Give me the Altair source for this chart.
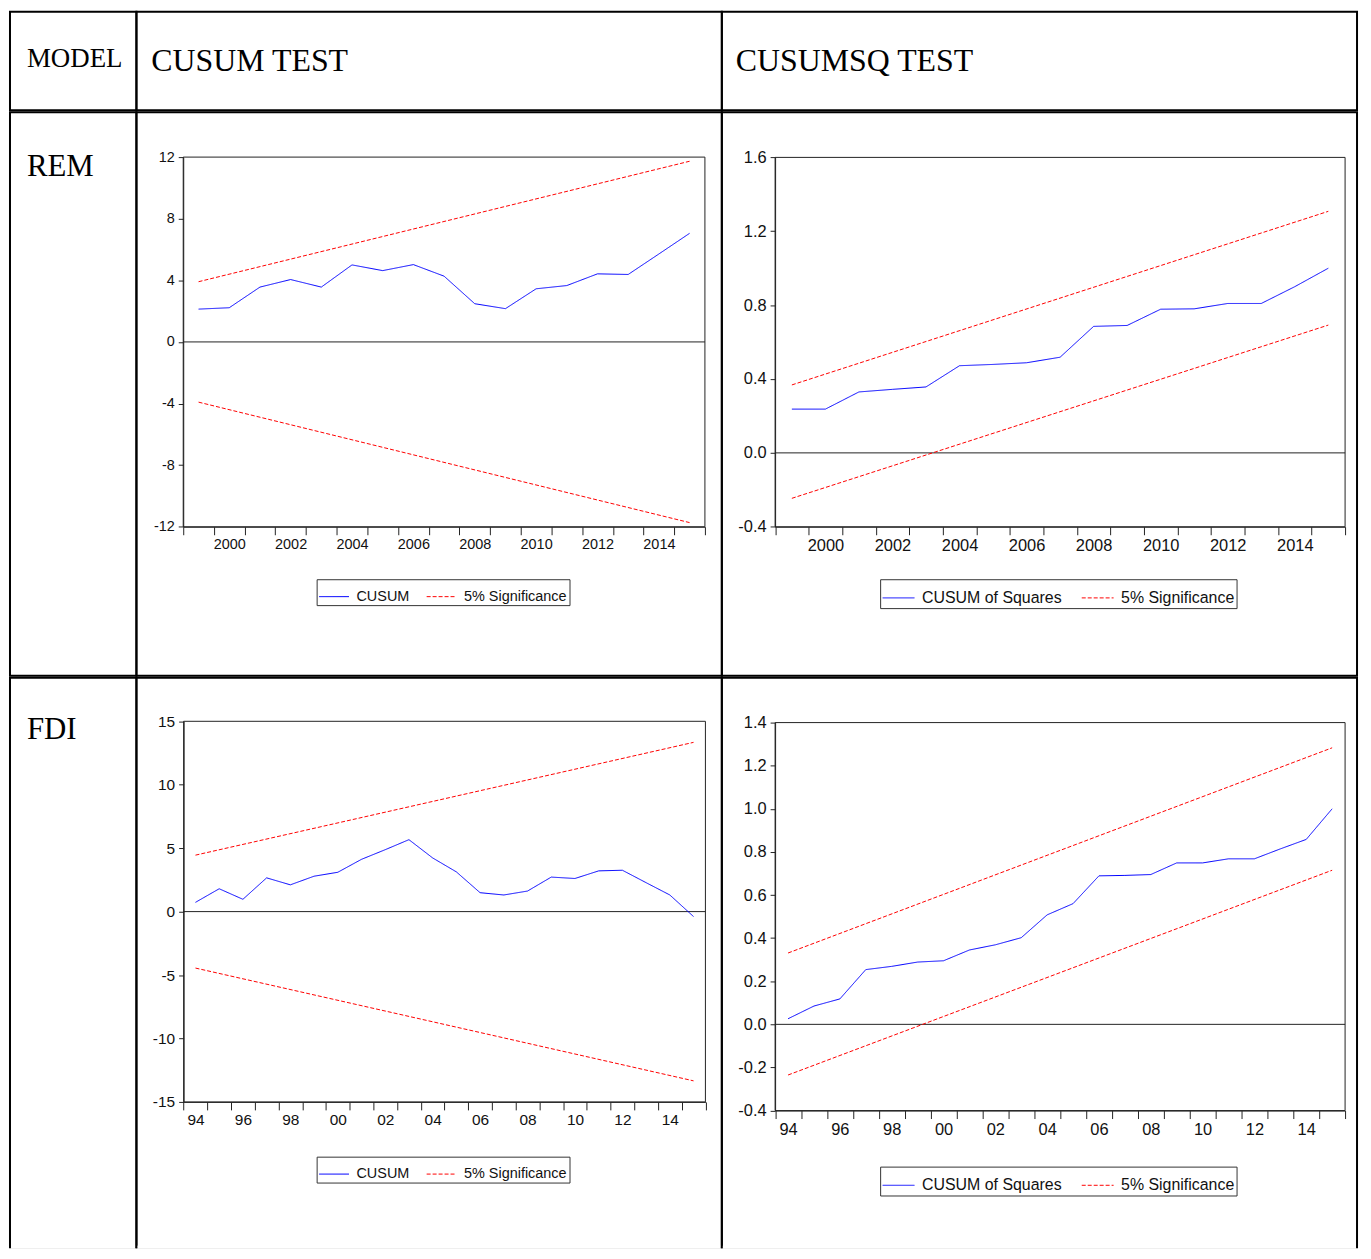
import altair as alt
import pandas as pd

# ---------------- data ----------------
rem_years = list(range(1999, 2016))
rem_cusum = [2.13, 2.22, 3.56, 4.05, 3.56, 5.00, 4.63, 5.02, 4.27, 2.48, 2.16,
             3.45, 3.66, 4.42, 4.38, 5.71, 7.05]
rem_bound_years = [1999, 2015]
rem_cusum_upper = [3.91, 11.73]
rem_cusum_lower = [-3.91, -11.73]
rem_cusumsq = [0.237, 0.237, 0.330, 0.344, 0.357, 0.472, 0.479, 0.488, 0.518,
               0.685, 0.690, 0.778, 0.780, 0.809, 0.809, 0.900, 1.000]
rem_sq_upper = [0.368, 1.308]
rem_sq_lower = [-0.246, 0.692]

fdi_years = list(range(1994, 2016))
fdi_cusum = [0.73, 1.80, 0.97, 2.66, 2.11, 2.79, 3.10, 4.12, 4.88, 5.67, 4.23,
             3.13, 1.49, 1.31, 1.62, 2.72, 2.61, 3.21, 3.26, 2.28, 1.31, -0.39]
fdi_bound_years = [1994, 2015]
fdi_cusum_upper = [4.45, 13.34]
fdi_cusum_lower = [-4.45, -13.34]
fdi_cusumsq = [0.026, 0.085, 0.118, 0.254, 0.269, 0.289, 0.295, 0.345, 0.369,
               0.402, 0.508, 0.560, 0.689, 0.691, 0.695, 0.749, 0.749, 0.768,
               0.768, 0.814, 0.858, 1.000]
fdi_sq_upper = [0.331, 1.283]
fdi_sq_lower = [-0.235, 0.715]

cusum_ticks = [-12, -8, -4, 0, 4, 8, 12]
fdi_cusum_ticks = [-15, -10, -5, 0, 5, 10, 15]
rem_sq_ticks = [-0.4, 0.0, 0.4, 0.8, 1.2, 1.6]
fdi_sq_ticks = [-0.4, -0.2, 0.0, 0.2, 0.4, 0.6, 0.8, 1.0, 1.2, 1.4]

header_texts = ["MODEL", "CUSUM TEST", "CUSUMSQ TEST"]
model_names = ["REM", "FDI"]
sig_name = "5% Significance"

# ---------------- layout ----------------
COL_W = [127, 588, 638]
ROW_H = [99, 566, 572]
BLUE = "#0000FF"
RED = "#FF0000"
SERIF = "Liberation Serif"
SANS = "Liberation Sans"


def long_df(years, stat, byears, upper, lower, stat_name):
    rows = []
    for y, v in zip(years, stat):
        rows.append({"year": y, "value": v, "series": stat_name, "line": "stat"})
    for y, v in zip(byears, upper):
        rows.append({"year": y, "value": v, "series": sig_name, "line": "upper"})
    for y, v in zip(byears, lower):
        rows.append({"year": y, "value": v, "series": sig_name, "line": "lower"})
    return pd.DataFrame(rows)


def bottom_mask(w, h):
    # the table continues past the page: hide the last row's bottom border
    return alt.Chart(pd.DataFrame({"k": [0]})).mark_rule(
        color="white", strokeWidth=3).encode(
        x=alt.value(1), x2=alt.value(w - 1), y=alt.value(h))


def panel(df, stat_name, first_year, last_year, yticks, ydec, short,
          cell_w, cell_h, px0, px1, ptop, pbot, legx, legy,
          axis_fs, legend_fs, sym_len, col_pad, open_bottom=False):
    x0 = first_year - 0.5
    x1 = last_year + 0.5
    ymin, ymax = yticks[0], yticks[-1]
    xs = alt.Scale(domain=[x0, x1], range=[px0, px1], nice=False, zero=False)
    ys = alt.Scale(domain=[ymin, ymax], range=[pbot, ptop], nice=False, zero=False)
    bounds = [x0 + i for i in range(int(x1 - x0) + 1)]
    cond = "((datum.value + 0.5) % 2 == 0 && datum.value < " + str(last_year) + ")"
    if short:
        lab = cond + " ? substring(toString(datum.value + 0.5), 2, 4) : ''"
    else:
        lab = cond + " ? toString(datum.value + 0.5) : ''"
    half = (px1 - px0) / (x1 - x0) / 2.0
    if ydec:
        ylab = ("datum.value < -0.001 ? '-' + format(-datum.value, '.1f') : "
                "format(abs(datum.value), '.1f')")
    else:
        ylab = "datum.value < 0 ? '-' + toString(-datum.value) : toString(datum.value)"
    xaxis = alt.Axis(values=bounds, labelExpr=lab, labelOffset=half, orient="bottom",
                     offset=-(cell_h - pbot), tickSize=8, tickColor="#222",
                     domainColor="#222", labelFont=SANS, labelFontSize=axis_fs,
                     labelColor="#111", labelPadding=3, grid=False, title=None,
                     labelOverlap=False, labelFlush=False, labelBound=False)
    yaxis = alt.Axis(values=yticks, labelExpr=ylab, orient="left", offset=-px0,
                     tickSize=5, tickColor="#222", domainColor="#222",
                     labelFont=SANS, labelFontSize=axis_fs, labelColor="#111",
                     labelPadding=4, grid=False, title=None,
                     labelOverlap=False, labelFlush=False, labelBound=False)
    legend = alt.Legend(orient="none", legendX=legx, legendY=legy,
                        direction="horizontal", title=None, symbolType="stroke",
                        symbolSize=sym_len * sym_len, symbolStrokeWidth=1,
                        labelFont=SANS, labelFontSize=legend_fs, labelColor="#111",
                        strokeColor="#333", fillColor="white", padding=2,
                        columnPadding=col_pad, labelOffset=7)
    dom = [stat_name, sig_name]
    frame_df = pd.DataFrame({"xa": [x0], "xb": [x1], "ya": [ymin], "yb": [ymax], "z": [0]})
    zero = alt.Chart(frame_df).mark_rule(color="#222", strokeWidth=1).encode(
        x=alt.X("xa:Q", scale=xs, axis=xaxis, title=None), x2="xb",
        y=alt.Y("z:Q", scale=ys, axis=yaxis, title=None),
    )
    frame = alt.Chart(frame_df).mark_rect(filled=False, stroke="#222", strokeWidth=1).encode(
        x=alt.X("xa:Q", scale=xs, axis=xaxis, title=None), x2="xb",
        y=alt.Y("ya:Q", scale=ys, axis=yaxis, title=None), y2="yb",
    )
    lines = alt.Chart(df).mark_line(strokeWidth=1).encode(
        x=alt.X("year:Q", scale=xs, axis=xaxis, title=None),
        y=alt.Y("value:Q", scale=ys, axis=yaxis, title=None),
        color=alt.Color("series:N", scale=alt.Scale(domain=dom, range=[BLUE, RED]),
                        legend=legend),
        strokeDash=alt.StrokeDash("series:N",
                                  scale=alt.Scale(domain=dom, range=[[1, 0], [4, 2]]),
                                  legend=legend),
        detail="line:N",
    )
    layers = [zero, frame, lines]
    if open_bottom:
        layers.append(bottom_mask(cell_w, cell_h))
    return alt.layer(*layers).properties(width=cell_w, height=cell_h)


def text_cell(txt, w, h, x, y, size, open_bottom=False):
    t = alt.Chart(pd.DataFrame({"t": [txt]})).mark_text(
        font=SERIF, fontSize=size, align="left", baseline="alphabetic", color="black"
    ).encode(text="t:N", x=alt.value(x), y=alt.value(y))
    if open_bottom:
        return alt.layer(t, bottom_mask(w, h)).properties(width=w, height=h)
    return t.properties(width=w, height=h)


h1 = text_cell(header_texts[0], COL_W[0], ROW_H[0], 17, 56, 27)
h2 = text_cell(header_texts[1], COL_W[1], ROW_H[0], 15, 60, 32)
h3 = text_cell(header_texts[2], COL_W[2], ROW_H[0], 14, 60, 32)

m1 = text_cell(model_names[0], COL_W[0], ROW_H[1], 17, 64, 31)
m2 = text_cell(model_names[1], COL_W[0], ROW_H[2], 17, 61, 31, open_bottom=True)

p1 = panel(long_df(rem_years, rem_cusum, rem_bound_years, rem_cusum_upper, rem_cusum_lower, "CUSUM"),
           "CUSUM", 1999, 2015, cusum_ticks, False, False,
           COL_W[1], ROW_H[1], 47, 571, 45, 416.3, 181, 469,
           14.5, 14.5, 30, 14)
p2 = panel(long_df(rem_years, rem_cusumsq, rem_bound_years, rem_sq_upper, rem_sq_lower, "CUSUM of Squares"),
           "CUSUM of Squares", 1999, 2015, rem_sq_ticks, True, False,
           COL_W[2], ROW_H[1], 53.5, 626, 45.3, 416.3, 159, 469,
           16.5, 16, 32, 17)
p3 = panel(long_df(fdi_years, fdi_cusum, fdi_bound_years, fdi_cusum_upper, fdi_cusum_lower, "CUSUM"),
           "CUSUM", 1994, 2015, fdi_cusum_ticks, False, True,
           COL_W[1], ROW_H[2], 47.4, 571.5, 43.7, 426, 181, 481,
           15.5, 14.5, 30, 14, open_bottom=True)
p4 = panel(long_df(fdi_years, fdi_cusumsq, fdi_bound_years, fdi_sq_upper, fdi_sq_lower, "CUSUM of Squares"),
           "CUSUM of Squares", 1994, 2015, fdi_sq_ticks, True, True,
           COL_W[2], ROW_H[2], 53.5, 626, 45, 434.7, 159, 491,
           16.5, 16, 32, 17, open_bottom=True)


def row(*charts):
    return alt.hconcat(*charts, spacing=0, bounds="flush").resolve_scale(
        color="independent", strokeDash="independent", x="independent", y="independent"
    ).resolve_legend(color="independent", strokeDash="independent")


chart = alt.vconcat(
    row(h1, h2, h3), row(m1, p1, p2), row(m2, p3, p4), spacing=0
).resolve_scale(
    color="independent", strokeDash="independent", x="independent", y="independent"
).resolve_legend(
    color="independent", strokeDash="independent"
).properties(
    padding=0
).configure(
    background="white",
    view=alt.ViewConfig(stroke="black", strokeWidth=2),
)

chart.save("out.html", embed_options={"renderer": "svg", "actions": False})
